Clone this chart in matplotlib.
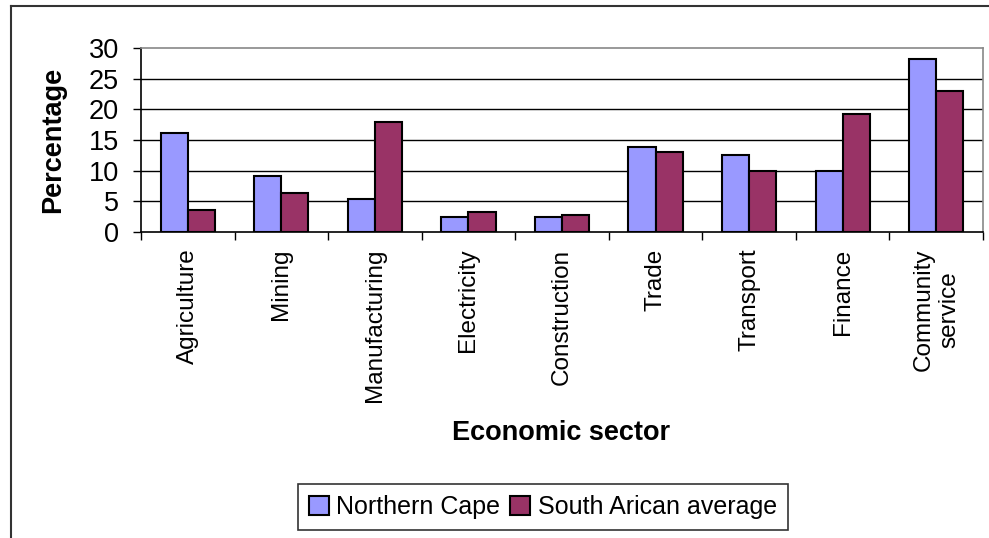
import matplotlib
matplotlib.use("Agg")
import matplotlib.pyplot as plt
import numpy as np
from matplotlib.lines import Line2D

plt.rcParams['font.family'] = ['Liberation Sans', 'DejaVu Sans']

# Share of each economic sector (%)
sectors = ['Agriculture', 'Mining', 'Manufacturing', 'Electricity', 'Construction',
           'Trade', 'Transport', 'Finance', 'Community\nservice']
northern_cape = [16.2, 9.1, 5.4, 2.4, 2.4, 13.8, 12.5, 10.0, 28.2]
sa_average = [3.6, 6.4, 18.0, 3.3, 2.7, 13.1, 10.0, 19.2, 23.0]
yticks = [0, 5, 10, 15, 20, 25, 30]

W, H = 989, 538
fig = plt.figure(figsize=(W / 100, H / 100), dpi=100)

# plot area in pixels: left 141, right 983, top 48, bottom 232
ax = fig.add_axes([141 / W, 1 - 232 / H, (983 - 141) / W, (232 - 48) / H])

x = np.arange(len(sectors))
bw = 0.29
ax.bar(x - bw / 2, northern_cape, bw, color='#9999ff', edgecolor='black', linewidth=1.5,
       label='Northern Cape', zorder=3)
ax.bar(x + bw / 2, sa_average, bw, color='#993366', edgecolor='black', linewidth=1.5,
       label='South Arican average', zorder=3)

ax.set_xlim(-0.5, len(sectors) - 0.5)
ax.set_ylim(0, 30)
ax.set_yticks(yticks)
ax.tick_params(axis='y', direction='out', length=6, width=1, labelsize=19.5, pad=10)

# labels centred on each group, tick marks on the group boundaries
ax.set_xticks(x)
ax.set_xticklabels(sectors, rotation=90, fontsize=17.5, va='top', ha='center',
                   multialignment='center')
ax.tick_params(axis='x', which='major', length=0, pad=12)
ax.set_xticks(np.arange(len(sectors) + 1) - 0.5, minor=True)
ax.tick_params(axis='x', which='minor', direction='out', length=6, width=1)

for y in yticks[1:-1]:
    ax.axhline(y, color='black', linewidth=1, zorder=1)

ax.spines['left'].set_color('black')
ax.spines['bottom'].set_color('black')
ax.spines['top'].set_color('#888888')
ax.spines['right'].set_color('#888888')
for s in ax.spines.values():
    s.set_linewidth(1.2)

ax.set_ylabel('Percentage', fontsize=19.5, fontweight='bold', labelpad=16)
fig.text(561 / W, 1 - 433 / H, 'Economic sector', fontsize=19.5, fontweight='bold',
         ha='center', va='center')

leg = fig.legend(loc='center', bbox_to_anchor=(543 / W, 1 - 507 / H), ncol=2,
                 fontsize=18, frameon=True, fancybox=False, edgecolor='black',
                 handlelength=0.8, handleheight=0.8, handletextpad=0.3,
                 columnspacing=0.4, borderpad=0.45, borderaxespad=0)
leg.get_frame().set_linewidth(1.2)

# outer chart border (left and top edges)
fig.add_artist(Line2D([11 / W, 11 / W], [0, 1 - 6 / H], color='#333333', linewidth=1.5))
fig.add_artist(Line2D([11 / W, 1], [1 - 6 / H, 1 - 6 / H], color='#333333', linewidth=1.5))

fig.savefig('out.png', dpi=100)
